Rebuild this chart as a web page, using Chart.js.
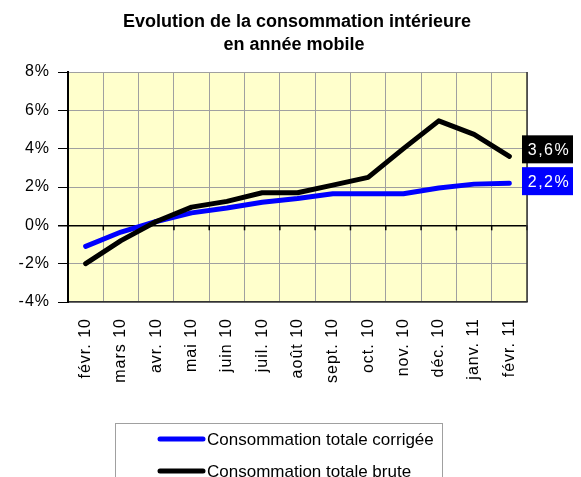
<!DOCTYPE html>
<html>
<head>
<meta charset="utf-8">
<script src="https://cdn.jsdelivr.net/npm/chart.js@4.4.1/dist/chart.umd.min.js"></script>
<style>
  html, body { margin: 0; padding: 0; background: #fff; }
  #wrap { width: 581px; height: 477px; position: relative; overflow: hidden; }
</style>
</head>
<body>
<div id="wrap"><canvas id="c" width="581" height="477"></canvas></div>
<script>
// ---- data ----
const titleLines = ['Evolution de la consommation intérieure', 'en année mobile'];
const categories = ['févr. 10','mars 10','avr. 10','mai 10','juin 10','juil. 10','août 10','sept. 10','oct. 10','nov. 10','déc. 10','janv. 11','févr. 11'];
const corrigee = [-1.1, -0.35, 0.2, 0.65, 0.9, 1.2, 1.4, 1.65, 1.65, 1.65, 1.95, 2.15, 2.2];
const brute    = [-2.0, -0.8, 0.2, 0.95, 1.25, 1.7, 1.7, 2.1, 2.5, 4.0, 5.45, 4.75, 3.6];
const seriesNames = ['Consommation totale corrigée', 'Consommation totale brute'];
const endLabels = ['2,2%', '3,6%'];
const yMin = -4, yMax = 8, yStep = 2;

const FONT = "'Liberation Sans', Arial, sans-serif";

function withSpacing(scale, spacing) {
  if (scale.__patched) return;
  const orig = scale.drawLabels.bind(scale);
  scale.drawLabels = function (area) {
    const ctx = scale.ctx;
    ctx.save();
    ctx.letterSpacing = spacing;
    orig(area);
    ctx.restore();
  };
  scale.__patched = true;
}

const decorPlugin = {
  id: 'decor',
  beforeDraw(chart) {
    withSpacing(chart.scales.x, '1px');
    withSpacing(chart.scales.y, '1px');
  },
  beforeDatasetsDraw(chart) {
    const { ctx, chartArea: a, scales: { x, y } } = chart;
    const y0 = y.getPixelForValue(0);
    ctx.save();
    ctx.strokeStyle = '#000';
    ctx.lineWidth = 1.5;
    for (let i = 0; i <= categories.length; i++) {
      const px = x.getPixelForValue(i - 0.5);
      ctx.beginPath();
      ctx.moveTo(px, y0);
      ctx.lineTo(px, y0 + 5);
      ctx.stroke();
    }
    ctx.strokeStyle = '#333';
    ctx.lineWidth = 1.5;
    ctx.beginPath();
    ctx.moveTo(a.right, a.top);
    ctx.lineTo(a.right, a.bottom);
    ctx.stroke();
    ctx.restore();
  },
  afterDraw(chart) {
    const { ctx, chartArea: a, scales: { y } } = chart;
    ctx.save();
    ctx.fillStyle = '#000';
    ctx.font = 'bold 18px ' + FONT;
    ctx.textAlign = 'center';
    ctx.textBaseline = 'alphabetic';
    ctx.fillText(titleLines[0], 297, 26.5);
    ctx.fillText(titleLines[1], 294, 50);

    const offsets = [-2, -7];
    chart.data.datasets.forEach((ds, i) => {
      const v = ds.data[ds.data.length - 1];
      const cy = y.getPixelForValue(v) + offsets[i];
      const bx = a.right - 5, bw = 51, bh = 28;
      ctx.fillStyle = ds.borderColor;
      ctx.fillRect(bx, cy - bh / 2, bw, bh);
      ctx.fillStyle = '#fff';
      ctx.font = '16px ' + FONT;
      ctx.letterSpacing = '1.5px';
      ctx.textAlign = 'center';
      ctx.textBaseline = 'middle';
      ctx.fillText(endLabels[i], bx + bw / 2 + 1.5, cy + 1);
      ctx.letterSpacing = '0px';
    });

    ctx.strokeStyle = '#a0a0a0';
    ctx.lineWidth = 1;
    ctx.strokeRect(115.5, 423.5, 327, 80);
    const rows = [439, 471];
    chart.data.datasets.forEach((ds, i) => {
      const ry = rows[i];
      ctx.strokeStyle = ds.borderColor;
      ctx.lineWidth = 5;
      ctx.lineCap = 'round';
      ctx.beginPath();
      ctx.moveTo(160, ry);
      ctx.lineTo(203, ry);
      ctx.stroke();
      ctx.fillStyle = '#000';
      ctx.font = '17px ' + FONT;
      ctx.textAlign = 'left';
      ctx.textBaseline = 'alphabetic';
      ctx.fillText(ds.label, 207, ry + 6);
    });
    ctx.restore();
  }
};

const chartAreaBg = {
  id: 'areaBg',
  beforeDraw(chart) {
    const { ctx, chartArea: a } = chart;
    ctx.save();
    ctx.fillStyle = '#FFFFCC';
    ctx.fillRect(a.left, a.top, a.right - a.left, a.bottom - a.top);
    ctx.restore();
  }
};

new Chart(document.getElementById('c'), {
  type: 'line',
  data: {
    labels: categories,
    datasets: [
      {
        label: seriesNames[0], data: corrigee,
        borderColor: '#0000FF', backgroundColor: '#0000FF',
        borderWidth: 5, pointRadius: 0, tension: 0,
        borderCapStyle: 'round', borderJoinStyle: 'round', order: 2
      },
      {
        label: seriesNames[1], data: brute,
        borderColor: '#000000', backgroundColor: '#000000',
        borderWidth: 5, pointRadius: 0, tension: 0,
        borderCapStyle: 'round', borderJoinStyle: 'round', order: 1
      }
    ]
  },
  options: {
    responsive: false,
    animation: false,
    devicePixelRatio: 1,
    layout: { padding: { top: 72, right: 54, bottom: 75, left: 0 } },
    plugins: { legend: { display: false }, title: { display: false }, tooltip: { enabled: false } },
    scales: {
      x: {
        type: 'category',
        offset: true,
        grid: { offset: true, color: '#a0a0a0', lineWidth: 1, drawTicks: false },
        border: { display: true, color: '#333', width: 1.5 },
        ticks: {
          autoSkip: false, maxRotation: 90, minRotation: 90, padding: 16,
          color: '#000', font: { family: FONT, size: 16 }
        },
        afterFit(s) { s.height = 100; }
      },
      y: {
        min: yMin, max: yMax,
        ticks: {
          stepSize: yStep, padding: 8, color: '#000',
          font: { family: FONT, size: 16 },
          callback: v => v + '%'
        },
        grid: {
          color: c => (c.tick && c.tick.value === 0) ? '#000' : '#a0a0a0',
          lineWidth: c => (c.tick && c.tick.value === 0) ? 1.5 : 1,
          tickColor: '#000', tickLength: 10, drawTicks: true
        },
        border: { display: true, color: '#000', width: 2 },
        afterFit(s) { s.width = 68; }
      }
    }
  },
  plugins: [chartAreaBg, decorPlugin]
});
</script>
</body>
</html>
